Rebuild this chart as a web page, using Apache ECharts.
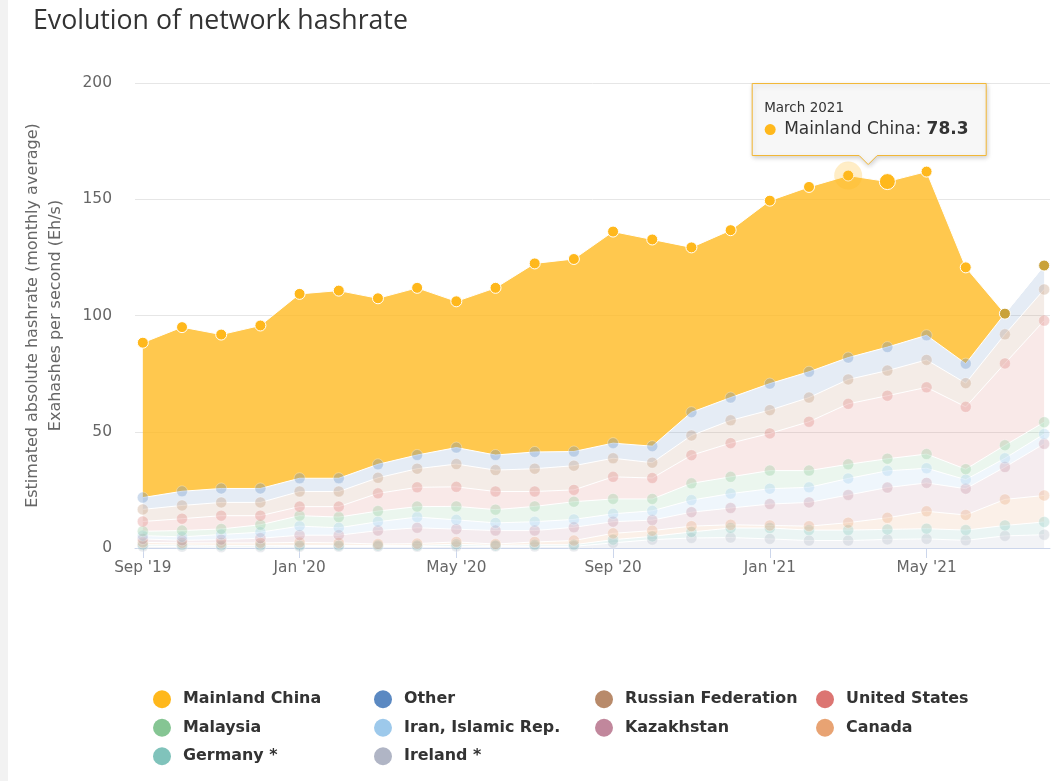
<!DOCTYPE html>
<html><head><meta charset="utf-8">
<script src="https://cdn.jsdelivr.net/npm/echarts@6/dist/echarts.min.js"></script>
<style>
html,body{margin:0;padding:0;width:1063px;height:781px;overflow:hidden;background:linear-gradient(to right,#f2f2f2 0,#f2f2f2 8px,#ffffff 8px);}
#c{width:1063px;height:781px;}
</style></head><body><div id="c"></div>
<script>
const months = ["September 2019","October 2019","November 2019","December 2019","January 2020","February 2020","March 2020","April 2020","May 2020","June 2020","July 2020","August 2020","September 2020","October 2020","November 2020","December 2020","January 2021","February 2021","March 2021","April 2021","May 2021","June 2021","July 2021","August 2021"];
const tickIndices = [0,4,8,12,16,20];
const tickLabels = ["Sep '19","Jan '20","May '20","Sep '20","Jan '21","May '21"];
const yTicks = [0,50,100,150,200];

const chinaData      = [66.6,70.6,66.2,70.1,79.3,80.7,71.4,71.9,62.9,71.9,81.1,82.8,91.0,88.9,70.9,72.0,78.7,79.5,78.3,71.2,70.4,41.4,0,0];
const otherData      = [5.1,6.1,6.0,6.0,5.7,5.7,5.8,5.9,7.1,6.5,7.2,6.1,6.5,7.1,10.0,9.8,11.4,11.1,9.4,10.1,10.6,8.4,8.9,10.3];
const russiaData     = [5.2,5.7,5.7,5.7,6.5,6.5,6.7,8.0,9.8,9.2,9.8,10.4,8.0,6.6,8.5,9.8,10.0,10.4,10.5,10.8,11.8,10.2,12.5,13.4];
const usData         = [4.2,5.1,5.7,3.9,3.9,4.5,7.6,8.3,8.4,7.8,6.4,5.1,9.5,9.0,12.1,14.5,16.0,21.0,26.0,27.1,28.7,26.8,35.2,43.7];
const malaysiaData   = [1.9,2.7,2.4,3.2,4.5,4.6,4.6,4.5,5.8,5.7,6.6,7.6,6.4,5.1,7.2,7.2,7.8,7.2,6.1,5.2,6.1,4.5,5.6,5.1];
const iranData       = [1.4,1.5,2.2,2.6,3.9,3.2,3.8,4.6,4.0,3.3,3.8,3.4,3.4,4.0,5.2,6.2,6.6,6.5,7.1,7.2,6.3,3.9,3.8,4.2];
const kazakhstanData = [1.5,1.1,1.4,2.0,3.1,3.3,5.8,6.8,5.5,5.8,4.9,5.7,5.0,4.5,6.0,7.2,9.2,10.2,11.9,13.0,12.2,11.3,13.9,22.2];
const canadaData     = [1.0,0.9,1.1,1.1,1.3,1.1,0.6,0.8,1.0,0.6,1.2,1.8,2.7,2.5,2.5,1.4,1.1,1.7,3.2,5.0,7.5,6.5,11.2,11.4];
const germanyData    = [0.7,0.7,0.7,0.7,0.5,0.5,0.5,0.5,0.9,0.4,0.7,0.7,1.4,1.4,2.6,4.1,4.7,4.5,4.5,4.3,4.4,4.4,4.5,5.5];
const irelandData    = [0.7,0.6,0.4,0.4,0.6,0.6,0.6,0.6,0.7,0.7,0.7,0.7,2.2,3.6,4.3,4.5,3.9,3.2,3.2,3.7,3.9,3.3,5.2,5.7];

const legendNames = ["Mainland China","Other","Russian Federation","United States","Malaysia","Iran, Islamic Rep.","Kazakhstan","Canada","Germany *","Ireland *"];
const tooltipIndex = 18;
const hoverIndex = 19;

const stackBottomToTop = [
  ["Ireland *", irelandData, "#b0b5c5"],
  ["Germany *", germanyData, "#80c3bb"],
  ["Canada", canadaData, "#e8a373"],
  ["Kazakhstan", kazakhstanData, "#c1879c"],
  ["Iran, Islamic Rep.", iranData, "#9dc9eb"],
  ["Malaysia", malaysiaData, "#85c593"],
  ["United States", usData, "#dc7572"],
  ["Russian Federation", russiaData, "#b88a6a"],
  ["Other", otherData, "#5b89c2"],
  ["Mainland China", chinaData, "#ffb81c"]
];

// data stored as [value, monthIndex] so that the stacked dimension is the value (y)
const seriesList = stackBottomToTop.map(([name, data, color]) => {
  const isChina = name === "Mainland China";
  return {
    name: name, type: "line", stack: "total",
    color: color,
    encode: {x: 1, y: 0},
    data: data.map((v, i) => isChina && v === 0 ? {value: [v, i], itemStyle: {color: "#c9a23a"}} : [v, i]),
    symbol: "circle",
    symbolSize: isChina ? function (v, p) { return p.dataIndex === hoverIndex ? 16 : 11; } : 11,
    showSymbol: true,
    showAllSymbol: true,
    lineStyle: {color: "#ffffff", width: 1},
    areaStyle: {color: color, opacity: isChina ? 0.78 : 0.16},
    itemStyle: isChina ? {color: color, borderColor: "#ffffff", borderWidth: 1}
                       : {color: color, opacity: 0.3, borderColor: "#ffffff", borderWidth: 1},
    emphasis: {disabled: true},
    silent: true
  };
});

const chart = echarts.init(document.getElementById("c"), null, {renderer: "canvas"});
chart.setOption({
  animation: false,
  backgroundColor: "transparent",
  title: {text: "Evolution of network hashrate", left: 28, top: 3,
    textStyle: {fontSize: 26.7, fontWeight: "normal", color: "#333333", fontFamily: "Open Sans"}},
  grid: {left: 135, right: 13, top: 83, bottom: 233},
  legend: {
    data: legendNames, left: 153, top: 685, width: 890, padding: 0, itemGap: 0,
    icon: "circle", itemWidth: 18, itemHeight: 18,
    itemStyle: {opacity: 1, borderWidth: 0},
    textStyle: {fontFamily: "DejaVu Sans", fontWeight: "bold", fontSize: 15.9, color: "#333333",
      width: 191, height: 28.5, lineHeight: 28.5, padding: [0, 0, 0, 7]},
    selectedMode: false
  },
  xAxis: {
    type: "value", min: -0.2, max: 23.15,
    axisLine: {show: true, onZero: false, lineStyle: {color: "#ccd6eb"}},
    axisTick: {show: true, customValues: tickIndices, length: 10, lineStyle: {color: "#ccd6eb"}},
    axisLabel: {customValues: tickIndices, color: "#666666", fontSize: 15.3, fontFamily: "DejaVu Sans", margin: 13,
      formatter: function (v) { const k = tickIndices.indexOf(Math.round(v)); return k >= 0 && Math.abs(v - Math.round(v)) < 1e-6 ? tickLabels[k] : ""; }},
    splitLine: {show: false}
  },
  yAxis: {
    type: "value", min: yTicks[0], max: yTicks[yTicks.length - 1], interval: 50,
    name: "Estimated absolute hashrate (monthly average)\nExahashes per second (Eh/s)",
    nameLocation: "middle", nameGap: 68, nameRotate: 90,
    nameTextStyle: {fontSize: 16, color: "#666666", lineHeight: 23, fontFamily: "DejaVu Sans"},
    axisLabel: {color: "#666666", fontSize: 15.5, margin: 23, fontFamily: "DejaVu Sans"},
    splitLine: {lineStyle: {color: "#e6e6e6"}},
    axisLine: {show: false}, axisTick: {show: false}
  },
  series: seriesList
});

// Static tooltip for the hovered point (March 2021)
let stackTop = 0;
stackBottomToTop.forEach(s => { stackTop += s[1][tooltipIndex]; });
const pt = chart.convertToPixel({xAxisIndex: 0, yAxisIndex: 0}, [tooltipIndex, stackTop]);
const bx = pt[0] - 96, by = pt[1] - 92, bw = 234, bh = 72, ax = bx + 116;
chart.setOption({
  graphic: [
    {type: "circle", z: 10, shape: {cx: pt[0], cy: pt[1], r: 14}, style: {fill: "rgba(255,184,28,0.25)"}, silent: true},
    {type: "polygon", z: 20, shape: {points: [[bx, by], [bx + bw, by], [bx + bw, by + bh], [ax + 9, by + bh], [ax, by + bh + 9], [ax - 9, by + bh], [bx, by + bh]]},
      style: {fill: "#f7f7f7", stroke: "#f2b632", lineWidth: 1, shadowBlur: 5, shadowOffsetX: 1, shadowOffsetY: 2, shadowColor: "rgba(0,0,0,0.18)"}, silent: true},
    {type: "text", z: 21, x: bx + 12, y: by + 25, style: {text: months[tooltipIndex], fontSize: 13.5, fill: "#333333", fontFamily: "DejaVu Sans", verticalAlign: "middle"}, silent: true},
    {type: "circle", z: 21, shape: {cx: bx + 18, cy: by + 46, r: 5.5}, style: {fill: "#ffb81c"}, silent: true},
    {type: "text", z: 21, x: bx + 32, y: by + 46, silent: true,
      style: {text: "{a|Mainland China: }{b|" + chinaData[tooltipIndex].toFixed(1) + "}", verticalAlign: "middle",
        rich: {a: {fontSize: 17, fill: "#333333", fontFamily: "DejaVu Sans"}, b: {fontSize: 17, fontWeight: "bold", fill: "#333333", fontFamily: "DejaVu Sans"}}}}
  ]
});
</script>
</body></html>
